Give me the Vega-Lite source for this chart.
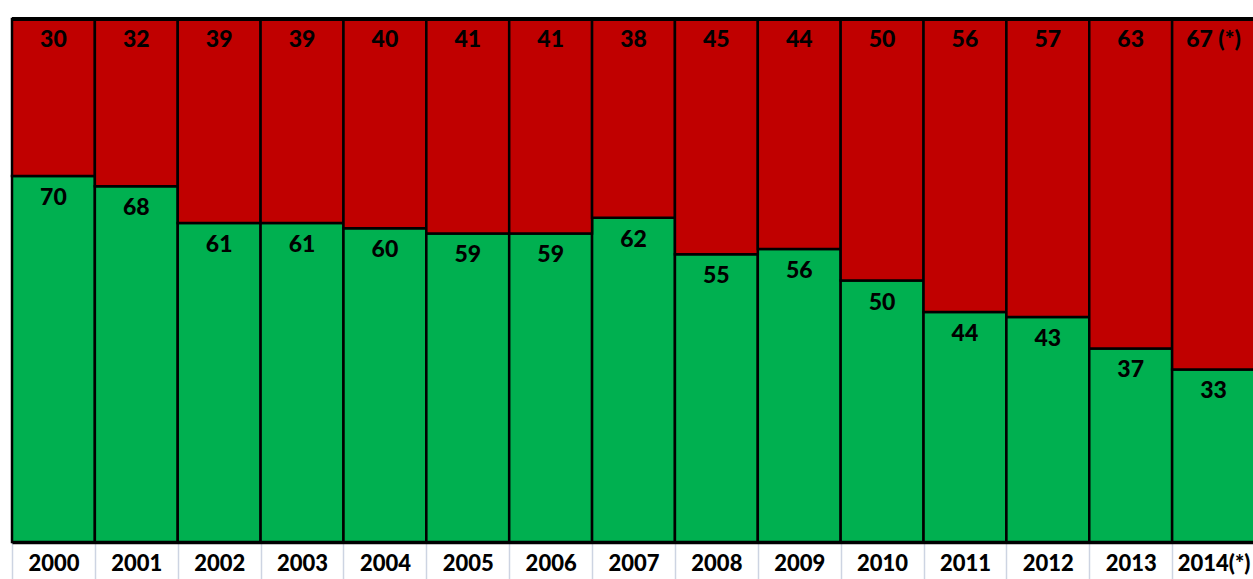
{
  "$schema": "https://vega.github.io/schema/vega-lite/v6.json",
  "width": 1243,
  "height": 523,
  "padding": {"left": 10, "top": 17, "right": 0, "bottom": 0},
  "background": "white",
  "config": {"view": {"stroke": null}, "font": "Lato"},
  "data": {
    "values": [
      {"year": "2000", "green": 70, "red": 30, "redLabel": "30"},
      {"year": "2001", "green": 68, "red": 32, "redLabel": "32"},
      {"year": "2002", "green": 61, "red": 39, "redLabel": "39"},
      {"year": "2003", "green": 61, "red": 39, "redLabel": "39"},
      {"year": "2004", "green": 60, "red": 40, "redLabel": "40"},
      {"year": "2005", "green": 59, "red": 41, "redLabel": "41"},
      {"year": "2006", "green": 59, "red": 41, "redLabel": "41"},
      {"year": "2007", "green": 62, "red": 38, "redLabel": "38"},
      {"year": "2008", "green": 55, "red": 45, "redLabel": "45"},
      {"year": "2009", "green": 56, "red": 44, "redLabel": "44"},
      {"year": "2010", "green": 50, "red": 50, "redLabel": "50"},
      {"year": "2011", "green": 44, "red": 56, "redLabel": "56"},
      {"year": "2012", "green": 43, "red": 57, "redLabel": "57"},
      {"year": "2013", "green": 37, "red": 63, "redLabel": "63"},
      {"year": "2014(*)", "green": 33, "red": 67, "redLabel": "67 (*)"}
    ]
  },
  "layer": [
    {
      "mark": {"type": "bar", "color": "#00B050", "stroke": "black", "strokeWidth": 2.5},
      "encoding": {
        "x": {
          "field": "year",
          "type": "nominal",
          "sort": null,
          "scale": {"paddingInner": 0, "paddingOuter": 0},
          "axis": {
            "title": null,
            "labelAngle": 0,
            "labelFont": "Lato",
            "labelFontWeight": 900,
            "labelFontSize": 22,
            "labelColor": "black",
            "labelPadding": -29,
            "tickBand": "extent",
            "tickSize": 40,
            "tickColor": "#cdd4e2",
            "tickWidth": 1.5,
            "domainColor": "black",
            "domainWidth": 3.5
          }
        },
        "y": {"field": "green", "type": "quantitative", "scale": {"domain": [0, 100], "nice": false}, "axis": null}
      }
    },
    {
      "mark": {"type": "bar", "color": "#C00000", "stroke": "black", "strokeWidth": 2.5},
      "encoding": {
        "x": {"field": "year", "type": "nominal", "sort": null},
        "y": {"field": "green", "type": "quantitative"},
        "y2": {"datum": 100}
      }
    },
    {
      "mark": {"type": "rule", "color": "black", "strokeWidth": 3.5},
      "encoding": {
        "y": {"datum": 100, "type": "quantitative"}
      }
    },
    {
      "mark": {"type": "text", "font": "Lato", "fontWeight": 900, "fontSize": 23, "color": "black", "baseline": "middle", "dy": 21},
      "encoding": {
        "x": {"field": "year", "type": "nominal", "sort": null},
        "y": {"datum": 100, "type": "quantitative"},
        "text": {"field": "redLabel"}
      }
    },
    {
      "mark": {"type": "text", "font": "Lato", "fontWeight": 900, "fontSize": 23, "color": "black", "baseline": "middle", "dy": 22},
      "encoding": {
        "x": {"field": "year", "type": "nominal", "sort": null},
        "y": {"field": "green", "type": "quantitative"},
        "text": {"field": "green", "type": "quantitative"}
      }
    }
  ]
}
